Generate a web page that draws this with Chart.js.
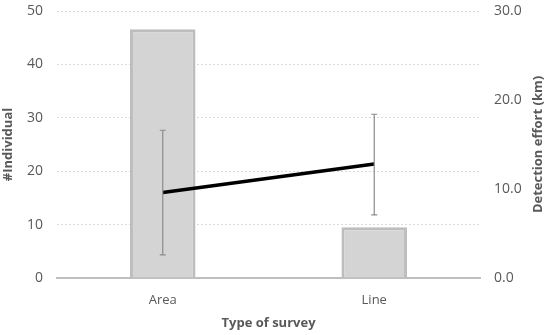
<!DOCTYPE html>
<html>
<head>
<meta charset="utf-8">
<script src="https://cdn.jsdelivr.net/npm/chart.js@4"></script>
<style>
  html, body { margin: 0; padding: 0; background: #fff; }
  #wrap { width: 550px; height: 335px; }
</style>
</head>
<body>
<div id="wrap"><canvas id="chart"></canvas></div>
<script>
const categories = ['Area', 'Line'];
const individuals = [46.6, 9.5];
const effort = [9.6, 12.8];
const effortLow = [2.6, 7.1];
const effortHigh = [16.6, 18.4];
const leftTicks = [0, 10, 20, 30, 40, 50];
const rightTicks = [0, 10, 20, 30];
const rightTitle = 'Detection effort (km)';

const textColor = '#595959';
const font = "'Open Sans', 'Liberation Sans', sans-serif";

// error bars of the effort line, plus the right axis title (reads bottom to top)
const extras = {
  id: 'extras',
  afterDatasetsDraw(chart) {
    const ctx = chart.ctx;
    const x = chart.scales.x;
    const y = chart.scales.y2;
    ctx.save();
    ctx.strokeStyle = '#8c8c8c';
    ctx.lineWidth = 1.2;
    effort.forEach((v, i) => {
      const px = x.getPixelForValue(i);
      const top = y.getPixelForValue(effortHigh[i]);
      const bot = y.getPixelForValue(effortLow[i]);
      ctx.beginPath();
      ctx.moveTo(px, top); ctx.lineTo(px, bot);
      ctx.moveTo(px - 3, top); ctx.lineTo(px + 3, top);
      ctx.moveTo(px - 3, bot); ctx.lineTo(px + 3, bot);
      ctx.stroke();
    });
    const area = chart.chartArea;
    ctx.translate(538, (area.top + area.bottom) / 2);
    ctx.rotate(-Math.PI / 2);
    ctx.fillStyle = textColor;
    ctx.font = `bold 13px ${font}`;
    ctx.textAlign = 'center';
    ctx.textBaseline = 'middle';
    ctx.fillText(rightTitle, 0, 0);
    ctx.restore();
  }
};

new Chart(document.getElementById('chart'), {
  data: {
    labels: categories,
    datasets: [{
      type: 'line',
      label: rightTitle,
      data: effort,
      yAxisID: 'y2',
      borderColor: '#000',
      borderWidth: 3.5,
      pointRadius: 0,
      order: 0
    }, {
      type: 'bar',
      label: '#Individual',
      data: individuals,
      yAxisID: 'y',
      backgroundColor: '#d4d4d4',
      borderColor: '#bdbdbd',
      borderWidth: 3,
      categoryPercentage: 1,
      barPercentage: 0.31,
      order: 1
    }]
  },
  options: {
    responsive: true,
    maintainAspectRatio: false,
    animation: false,
    layout: { padding: { top: 11, left: 0, right: 0, bottom: 0 } },
    plugins: { legend: { display: false }, tooltip: { enabled: false } },
    scales: {
      x: {
        grid: { display: false },
        border: { color: '#bfbfbf', width: 2 },
        ticks: { color: textColor, font: { family: font, size: 13 }, padding: 6 },
        title: { display: true, text: 'Type of survey', color: textColor, font: { family: font, size: 13, weight: 'bold' }, padding: { top: 0 } },
        afterFit(s) { s.height = 57; s.paddingLeft = 0; s.paddingRight = 0; }
      },
      y: {
        position: 'left',
        min: 0, max: 50,
        afterBuildTicks(s) { s.ticks = leftTicks.map(v => ({ value: v })); },
        grid: { color: '#dadada', drawTicks: false },
        border: { display: false, dash: [2, 2] },
        ticks: { color: textColor, font: { family: font, size: 14 }, padding: 14 },
        title: { display: true, text: '#Individual', color: textColor, font: { family: font, size: 13, weight: 'bold' }, padding: 0 },
        afterFit(s) { s.width = 57; s.paddingTop = 0; s.paddingBottom = 0; }
      },
      y2: {
        position: 'right',
        min: 0, max: 30,
        afterBuildTicks(s) { s.ticks = rightTicks.map(v => ({ value: v })); },
        grid: { drawOnChartArea: false, drawTicks: false },
        border: { display: false },
        ticks: { color: textColor, font: { family: font, size: 14 }, padding: 14, callback: v => v.toFixed(1) },
        afterFit(s) { s.width = 70; s.paddingTop = 0; s.paddingBottom = 0; }
      }
    }
  },
  plugins: [extras]
});
</script>
</body>
</html>
